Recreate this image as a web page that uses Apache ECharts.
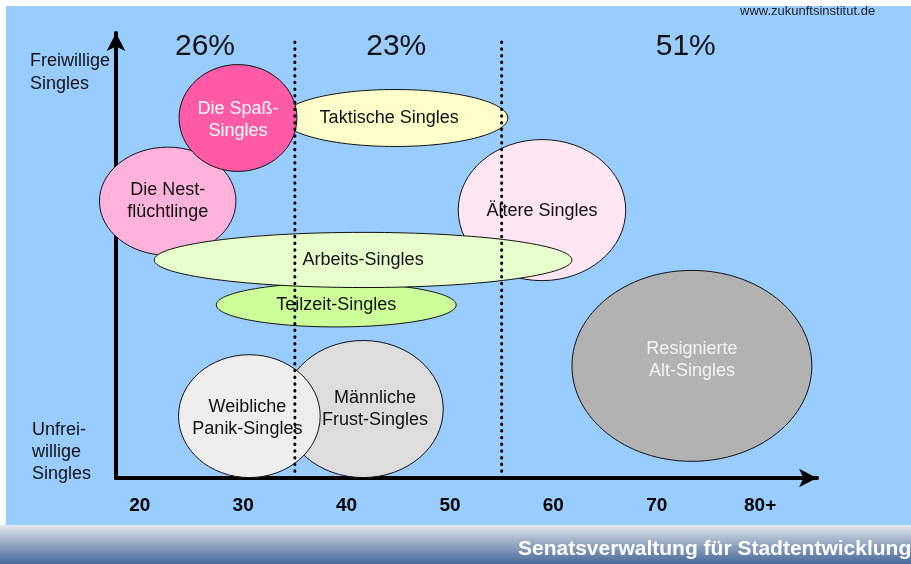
<!DOCTYPE html>
<html>
<head>
<meta charset="utf-8">
<script src="https://cdn.jsdelivr.net/npm/echarts@6/dist/echarts.min.js"></script>
<style>
  html, body { margin: 0; padding: 0; background: #fff; }
  #chart { width: 911px; height: 564px; }
</style>
</head>
<body>
<div id="chart"></div>
<script>
  // Single-Typen (Zeichenreihenfolge = Überlagerung, letzter liegt oben)
  var typeNames = ['Taktische Singles', 'Die Nest-\nflüchtlinge', 'Die Spaß-\nSingles', 'Ältere Singles',
    'Teilzeit-Singles', 'Arbeits-Singles', 'Männliche\nFrust-Singles', 'Weibliche\nPanik-Singles',
    'Resignierte\nAlt-Singles'];
  var ageCenter  = [44.7, 22.7, 29.5, 58.9, 39.0, 41.6, 41.6, 30.6, 73.4]; // Alter (Mitte)
  var freiCenter = [80.9, 62.2, 80.9, 60.2, 38.9, 49.0, 15.5, 13.9, 25.2]; // freiwillig (Mitte)
  var ageSpan    = [21.8, 13.2, 11.4, 16.2, 23.2, 40.4, 15.5, 13.7, 23.2]; // Breite in Jahren
  var freiSpan   = [12.8, 24.3, 24.0, 31.7,  9.9, 12.4, 30.8, 27.6, 42.9]; // Höhe

  var ageTicks = [20, 30, 40, 50, 60, 70, 80];
  var dividerAges = [35, 55];
  var shareLabels = ['26%', '23%', '51%'];
  var shareAges = [26.5, 45, 73];

  // Aussehen
  var fills = ['#FFFFCC', '#FFB3DB', '#FF5AA5', '#FFE6F2', '#CCFF99', '#E6FFCC', '#DDDDDD', '#EEEEEE', '#B2B2B2'];
  var textColors = ['#111', '#111', '#fff', '#111', '#111', '#111', '#111', '#111', '#f4f4f4'];
  var labelDx = [-6, 0, 0, 0, 0, 0, 12, -2, 0];   // Textverschiebung in px
  var labelDy = [0, 0, 2, 1, 0, 0, 0, 2, -6];
  var font = 'Arial, "Liberation Sans", sans-serif';

  var myChart = echarts.init(document.getElementById('chart'));

  var ellipseData = typeNames.map(function (n, i) {
    return [ageCenter[i], freiCenter[i], ageSpan[i], freiSpan[i]];
  });

  myChart.setOption({
    animation: false,
    backgroundColor: '#99CCFF',
    grid: { left: 116, right: 94, top: 33, bottom: 86 },
    xAxis: {
      type: 'value', min: 17.7, max: 85.5,
      splitLine: { show: false },
      axisTick: { show: false },
      axisLine: { show: true, symbol: ['none', 'arrow'], symbolSize: [14, 18],
        lineStyle: { color: '#000', width: 4 } },
      axisLabel: {
        customValues: ageTicks,
        formatter: function (v) { return v === 80 ? '80+' : String(v); },
        color: '#000', fontWeight: 'bold', fontSize: 19, fontFamily: font, margin: 18
      }
    },
    yAxis: {
      type: 'value', min: 0, max: 100,
      splitLine: { show: false },
      axisTick: { show: false },
      axisLabel: { show: false },
      axisLine: { show: true, symbol: ['none', 'arrow'], symbolSize: [14, 18],
        lineStyle: { color: '#000', width: 4 } }
    },
    graphic: [
      { type: 'rect', z: -1, shape: { x: 0, y: 0, width: 911, height: 6 }, style: { fill: '#fff' } },
      { type: 'rect', z: -1, shape: { x: 0, y: 0, width: 6, height: 525 }, style: { fill: '#fff' } },
      { type: 'rect', z: -1, shape: { x: 0, y: 525, width: 911, height: 39 },
        style: { fill: new echarts.graphic.LinearGradient(0, 0, 0, 1, [
          { offset: 0, color: '#E4E7EE' }, { offset: 0.4, color: '#A2B2C9' }, { offset: 1, color: '#46699A' }
        ]) } },
      { type: 'text', z: 100, x: 518, y: 549,
        style: { text: 'Senatsverwaltung für Stadtentwicklung', fill: '#fff', font: 'bold 21px ' + font,
          verticalAlign: 'middle' } },
      { type: 'text', z: 100, x: 740, y: 11,
        style: { text: 'www.zukunftsinstitut.de', fill: '#222', font: '13px ' + font, verticalAlign: 'middle' } },
      { type: 'text', z: 100, x: 30, y: 50,
        style: { text: 'Freiwillige\nSingles', fill: '#111', font: '18px ' + font, lineHeight: 23 } },
      { type: 'text', z: 100, x: 32, y: 419,
        style: { text: 'Unfrei-\nwillige\nSingles', fill: '#111', font: '18px ' + font, lineHeight: 22 } }
    ],
    series: [
      {
        type: 'custom',
        z: 2,
        data: ellipseData,
        renderItem: function (params, api) {
          var i = params.dataIndex;
          var c = api.coord([api.value(0), api.value(1)]);
          var s = api.size([api.value(2), api.value(3)]);
          return {
            type: 'group',
            children: [
              { type: 'ellipse', shape: { cx: c[0], cy: c[1], rx: s[0] / 2, ry: s[1] / 2 },
                style: { fill: fills[i], stroke: '#111', lineWidth: 1 } },
              { type: 'text', x: c[0] + labelDx[i], y: c[1] + labelDy[i],
                style: { text: typeNames[i], fill: textColors[i], font: '18px ' + font,
                  align: 'center', verticalAlign: 'middle', lineHeight: 22 } }
            ]
          };
        }
      },
      {
        // Trennlinien zwischen den Altersgruppen
        type: 'custom',
        z: 5,
        data: dividerAges.map(function (a) { return [a, 0, 98]; }),
        renderItem: function (params, api) {
          var p0 = api.coord([api.value(0), api.value(1)]);
          var p1 = api.coord([api.value(0), api.value(2)]);
          return { type: 'line', shape: { x1: p0[0], y1: p0[1], x2: p1[0], y2: p1[1] },
            style: { stroke: '#000', lineWidth: 3, lineDash: [0.5, 6.2], lineCap: 'round' } };
        }
      },
      {
        // Anteile
        type: 'custom',
        z: 5,
        data: shareAges.map(function (a) { return [a, 97.3]; }),
        renderItem: function (params, api) {
          var p = api.coord([api.value(0), api.value(1)]);
          return { type: 'text', x: p[0] - 2, y: p[1] + 2,
            style: { text: shareLabels[params.dataIndex], fill: '#111', font: '30px ' + font,
              align: 'center', verticalAlign: 'middle' } };
        }
      }
    ]
  });
</script>
</body>
</html>
